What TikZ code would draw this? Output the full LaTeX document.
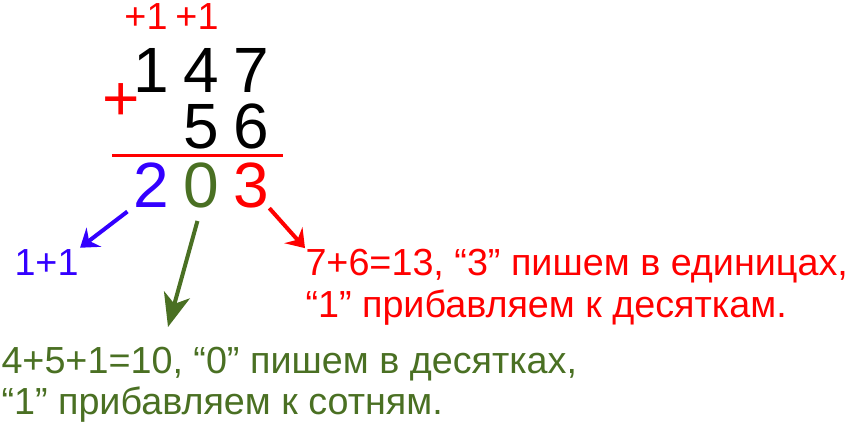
\documentclass[tikz,border=0pt]{standalone}
\usepackage{fontspec}
\setmainfont{Liberation Sans}
\usetikzlibrary{arrows.meta}
\definecolor{sumred}{RGB}{255,0,0}
\definecolor{sumblue}{RGB}{51,0,255}
\definecolor{sumgreen}{RGB}{74,112,35}
\tikzset{every picture/.style={line width=0.75pt}}
\tikzset{
  bigdigit/.style={anchor=base,inner sep=0pt,font=\fontsize{48}{48}\selectfont},
  smalltext/.style={anchor=base west,inner sep=0pt,font=\fontsize{28.3}{31.5}\selectfont},
  carry/.style={anchor=base,inner sep=0pt,text=sumred,font=\fontsize{28.3}{31.5}\selectfont},
  hint/.style={line width=3pt}
}

\begin{document}
\begin{tikzpicture}[x=0.75pt,y=0.75pt,yscale=-1,xscale=1]
		\path[use as bounding box] (0,0) rectangle (850,426);
		
		%carries
		\node[carry] (carry1) at (146,29) {+1};
		\node[carry] (carry2) at (197,29) {+1};
		%addends
		\node[bigdigit] (top1) at (151,92) {1};
		\node[bigdigit] (top4) at (201,92) {4};
		\node[bigdigit] (top7) at (251,92) {7};
		\node[bigdigit] (bot5) at (201,148) {5};
		\node[bigdigit] (bot6) at (251,148) {6};
		\node[bigdigit,text=sumred] (plus) at (121,120) {+};
		\draw [sumred,line width=2.25pt] (112,155) -- (283,155);
		%result
		\node[bigdigit,text=sumblue] (res2) at (151,207) {2};
		\node[bigdigit,text=sumgreen] (res0) at (201,207) {0};
		\node[bigdigit,text=sumred] (res3) at (251,207) {3};
		
		%explanations
		\node[smalltext,text=sumblue] (hundreds) at (14,275) {1+1};
		\node[smalltext,text=sumred] (onesA) at (305,275) {7+6=13, “3” пишем в единицах,};
		\node[smalltext,text=sumred] (onesB) at (305,317) {“1” прибавляем к десяткам.};
		\node[smalltext,text=sumgreen] (tensA) at (1,373) {4+5+1=10, “0” пишем в десятках,};
		\node[smalltext,text=sumgreen] (tensB) at (1,414) {“1” прибавляем к сотням.};
		\coordinate (tensTip) at (168,327);
		
		%arrows
		\draw [hint,sumblue,shorten <=5pt,shorten >=1pt,-{Stealth[length=13pt,width=18pt,inset=4.5pt]}] (res2.south west) -- (hundreds.north east);
		\draw [hint,sumgreen,shorten <=10pt,-{Stealth[length=25pt,width=20pt,inset=7pt]}] (res0.south) -- (tensTip);
		\draw [hint,sumred,-{Stealth[length=13pt,width=18pt,inset=4.5pt]}] (res3.south east) -- (onesA.north west);
		
\end{tikzpicture}
\end{document}
